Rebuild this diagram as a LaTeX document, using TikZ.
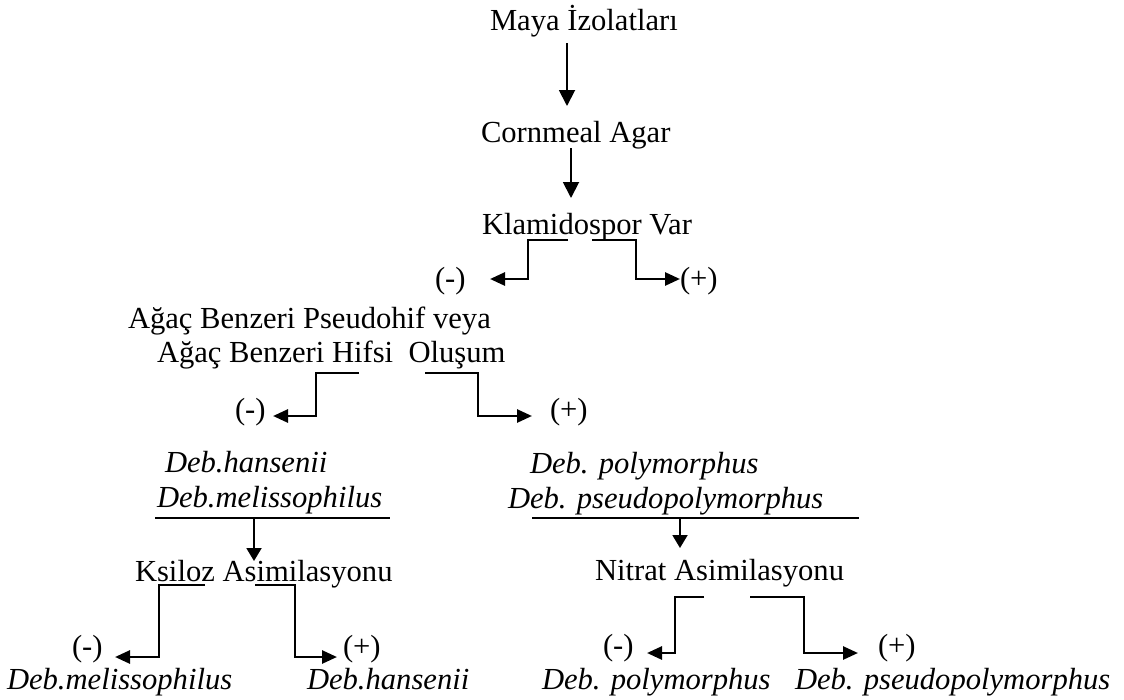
\documentclass[tikz,border=0pt]{standalone}
\usepackage{fontspec}
\setmainfont{Liberation Serif}
\usetikzlibrary{arrows.meta}
\begin{document}
\begin{tikzpicture}[x=1pt,y=-1pt,
  txt/.style={anchor=base west,inner sep=0pt,outer sep=0pt,font=\fontsize{30.6}{36}\selectfont},
  itx/.style={txt,font=\fontsize{30.6}{36}\selectfont\itshape},
  varr/.style={line width=1.9pt,-{Triangle[length=16pt,width=16pt]}},
  darr/.style={line width=1.9pt,-{Triangle[length=13pt,width=15pt]}},
  elbow/.style={line width=2.7pt,-{Triangle[length=15pt,width=13pt]}},
  rule/.style={line width=1.6pt}]
\useasboundingbox (0,0) rectangle (1124,699);

% main chain
\node[txt] (n0) at (490,30) {Maya İzolatları};
\node[txt] (n1) at (481,142) {Cornmeal Agar};
\node[txt] (n2) at (482,234) {Klamidospor Var};
\coordinate (a1s) at (567,43);  \coordinate (a1e) at (567,106);
\coordinate (a2s) at (571,148); \coordinate (a2e) at (571,198);
\draw[varr] (a1s) -- (a1e);
\draw[varr] (a2s) -- (a2e);

% chlamydospore branches
\node[txt] (m2) at (435,288) {(-)};
\node[txt] (p2) at (680,288) {(+)};
\coordinate (k-ls) at (568,240); \coordinate (k-le) at (490,279);
\coordinate (k-rs) at (592,240); \coordinate (k-re) at (680,279);
\draw[elbow] (k-ls) -| ([xshift=38pt]k-le) -- (k-le);
\draw[elbow] (k-rs) -| ([xshift=-44pt]k-re) -- (k-re);

% tree-like pseudohyphae
\node[txt] (n3a) at (128,328) {Ağaç Benzeri Pseudohif veya};
\node[txt] (n3b) at (157,362) {Ağaç Benzeri Hifsi\ \ Oluşum};
\node[txt] (m3) at (235,419) {(-)};
\node[txt] (p3) at (550,419) {(+)};
\coordinate (h-ls) at (359,373); \coordinate (h-le) at (273,416);
\coordinate (h-rs) at (425,373); \coordinate (h-re) at (532,416);
\draw[elbow] (h-ls) -| ([xshift=43pt]h-le) -- (h-le);
\draw[elbow] (h-rs) -| ([xshift=-54pt]h-re) -- (h-re);

% species groups
\node[itx] (l1) at (165,472) {Deb.hansenii};
\node[itx] (l2) at (157,507) {Deb.melissophilus};
\node[itx] (r1) at (530,473) {Deb. polymorphus};
\node[itx] (r2) at (508,508) {Deb. pseudopolymorphus};
\coordinate (ul-a) at (155,518); \coordinate (ul-b) at (390,518);
\coordinate (ur-a) at (532,518); \coordinate (ur-b) at (859,518);
\draw[rule] (ul-a) -- (ul-b);
\draw[rule] (ur-a) -- (ur-b);

% assimilation tests
\node[txt] (ks) at (135,581) {Ksiloz Asimilasyonu};
\node[txt] (ni) at (595,580) {Nitrat Asimilasyonu};
\coordinate (dl-s) at (254,518); \coordinate (dl-e) at (254,561);
\coordinate (dr-s) at (680,518); \coordinate (dr-e) at (680,548);
\draw[darr] (dl-s) -- (dl-e);
\draw[darr] (dr-s) -- (dr-e);

% xylose branches
\node[txt] (m4) at (72,656) {(-)};
\node[txt] (p4) at (343,656) {(+)};
\node[itx] (b1) at (7,689) {Deb.melissophilus};
\node[itx] (b2) at (307,689) {Deb.hansenii};
\coordinate (x-ls) at (205,585); \coordinate (x-le) at (115,657);
\coordinate (x-rs) at (255,585); \coordinate (x-re) at (337,657);
\draw[elbow] (x-ls) -| ([xshift=44pt]x-le) -- (x-le);
\draw[elbow] (x-rs) -| ([xshift=-42pt]x-re) -- (x-re);

% nitrate branches
\node[txt] (m5) at (603,655) {(-)};
\node[txt] (p5) at (878,655) {(+)};
\node[itx] (b3) at (542,689) {Deb. polymorphus};
\node[itx] (b4) at (795,689) {Deb. pseudopolymorphus};
\coordinate (t-ls) at (704,597); \coordinate (t-le) at (647,653);
\coordinate (t-rs) at (750,597); \coordinate (t-re) at (858,653);
\draw[elbow] (t-ls) -| ([xshift=28pt]t-le) -- (t-le);
\draw[elbow] (t-rs) -| ([xshift=-54pt]t-re) -- (t-re);
\end{tikzpicture}
\end{document}
